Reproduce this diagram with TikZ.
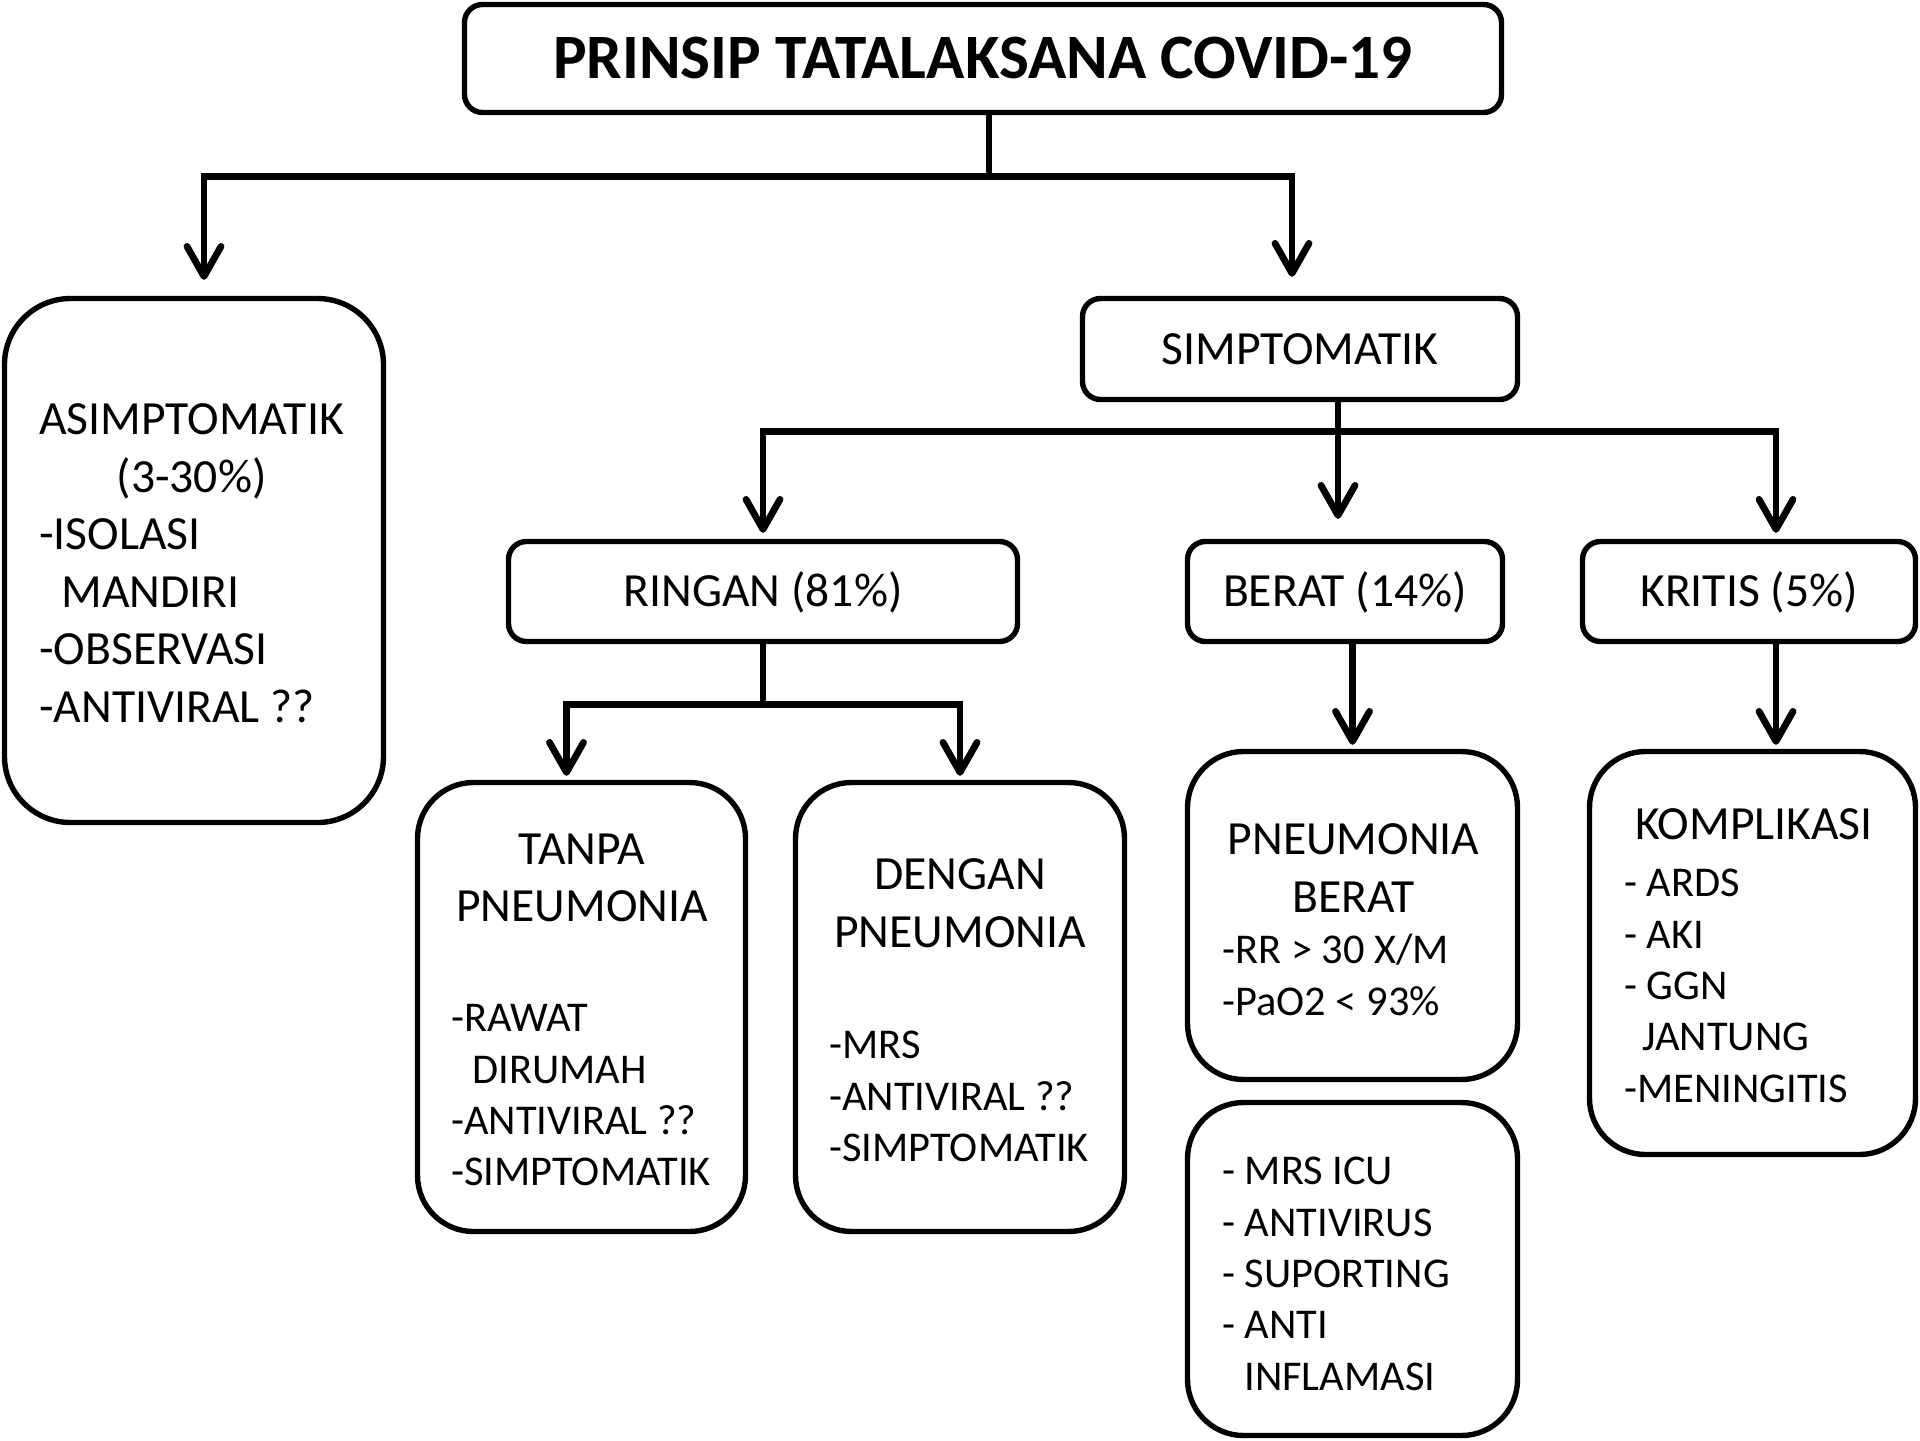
\documentclass[tikz,border=0pt]{standalone}
\usepackage{fontspec}
\setmainfont{Carlito}
\usepackage{calc}
\usetikzlibrary{arrows.meta,calc}
\begin{document}
\begin{tikzpicture}[x=0.5pt,y=-0.5pt,
  box/.style={draw, line width=2.7pt, rounded corners=9pt, inner sep=0pt},
  bigbox/.style={box, rounded corners=28pt},
  cbox/.style={box, font=\fontsize{23.8}{29}\selectfont, text height=15pt, text depth=0pt},
  conn/.style={line width=3.4pt},
  arr/.style={conn, -{Straight Barb[length=15pt,width=17pt,line cap=round,line join=round]}},
  hd/.style={anchor=north, inner sep=0pt, align=center, font=\fontsize{23.8}{28.75}\selectfont},
  hdl/.style={anchor=north west, inner sep=0pt, align=left, font=\fontsize{23.8}{28.75}\selectfont},
  lst/.style={anchor=north west, inner sep=0pt, align=left, font=\fontsize{21.2}{25.7}\selectfont},
]
\useasboundingbox (0,0) rectangle (1920,1440);

% boxes
\node[box, minimum width=518.5pt, minimum height=54pt,
      font=\bfseries\fontsize{31.6}{37}\selectfont, text height=20pt, text depth=0pt]
      (title) at (983,58.5) {PRINSIP TATALAKSANA COVID-19};
\node[bigbox, rounded corners=33pt, minimum width=189.5pt, minimum height=262pt] (asym) at (194,560.5) {};
\node[cbox, minimum width=217.5pt, minimum height=50.5pt] (simp) at (1300,349) {SIMPTOMATIK};
\node[cbox, minimum width=254.5pt, minimum height=50pt] (ringan) at (763,591.5) {RINGAN (81\%)};
\node[cbox, minimum width=157.5pt, minimum height=50pt] (berat) at (1345,591.5) {BERAT (14\%)};
\node[cbox, minimum width=166.5pt, minimum height=50pt] (kritis) at (1749,591.5) {KRITIS (5\%)};
\node[bigbox, minimum width=164pt, minimum height=224.5pt] (tanpa) at (581.5,1007) {};
\node[bigbox, minimum width=164.5pt, minimum height=224.5pt] (dengan) at (960,1007) {};
\node[bigbox, minimum width=165pt, minimum height=164pt] (pb) at (1352.5,915.5) {};
\node[bigbox, minimum width=165pt, minimum height=166.5pt] (bot) at (1352.5,1269) {};
\node[bigbox, minimum width=163pt, minimum height=201.5pt] (komp) at (1752.5,953) {};

% texts
\node[hdl] (asymtxt) at (39,394) {\strut ASIMPTOMATIK\\\makebox[\widthof{ASIMPTOMATIK}]{(3-30\%)}\\-ISOLASI\\\hspace*{11pt}MANDIRI\\-OBSERVASI\\-ANTIVIRAL ??};
\node[hd] (tanpahd) at (582,823.6) {\strut TANPA\\PNEUMONIA};
\node[lst] (tanpalst) at (451,995.3) {\strut -RAWAT\\\hspace*{10.5pt}DIRUMAH\\-ANTIVIRAL ??\\-SIMPTOMATIK};
\node[hd] (denganhd) at (960,849) {\strut DENGAN\\PNEUMONIA};
\node[lst] (denganlst) at (829,1022.3) {\strut -MRS\\-ANTIVIRAL ??\\-SIMPTOMATIK};
\node[hd] (pbhd) at (1353.5,814) {\strut PNEUMONIA\\BERAT};
\node[lst] (pblst) at (1222,927.3) {\strut -RR > 30 X/M\\-PaO2 < 93\%};
\node[lst] (botlst) at (1222,1148.3) {\strut - MRS ICU\\- ANTIVIRUS\\- SUPORTING\\- ANTI\\\hspace*{11pt}INFLAMASI};
\node[hd] (komphd) at (1754,798.6) {\strut KOMPLIKASI};
\node[lst] (komplst) at (1624,860.3) {\strut - ARDS\\- AKI\\- GGN\\\hspace*{9pt}JANTUNG\\-MENINGITIS};

% connectors
\coordinate (t0) at ($(title.south)+(6,0)$);
\draw[conn] (t0) -- ++(0,61) coordinate (j1);
\draw[arr, shorten >=8pt] (j1) -| ($(asym.north)+(10,0)$);
\draw[arr, shorten >=9.5pt] (j1) -| ($(simp.north)+(-8,0)$);
\coordinate (j2) at ($(simp.south)+(38,29)$);
\draw[conn] (simp.south -| j2) -- (j2);
\draw[arr, shorten >=3pt] (j2) -| (ringan.north);
\draw[arr, shorten >=10pt] (j2) -- (j2 |- berat.north);
\draw[arr, shorten >=3pt] (j2) -| ($(kritis.north)+(27,0)$);
\draw[conn] (ringan.south) -- ++(0,60) coordinate (j3);
\draw[arr, shorten >=2pt] (j3) -| ($(tanpa.north)+(-15,0)$);
\draw[arr, shorten >=2pt] (j3) -| (dengan.north);
\draw[arr, shorten >=2pt] (berat.south -| pb.north) -- (pb.north);
\coordinate (k1) at ($(kritis.south)+(27,0)$);
\draw[arr, shorten >=2pt] (k1) -- (k1 |- komp.north);
\end{tikzpicture}
\end{document}
